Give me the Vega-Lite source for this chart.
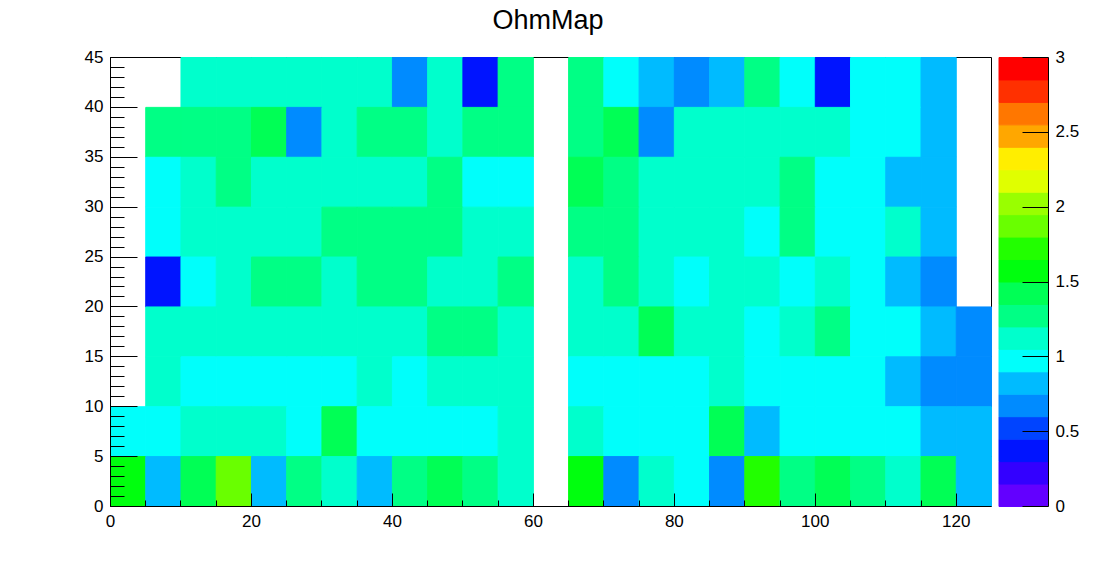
{
  "$schema": "https://vega.github.io/schema/vega-lite/v6.json",
  "autosize": {"type": "pad"},
  "padding": {"left": 83, "top": 6, "right": 0, "bottom": 0},
  "background": "white",
  "title": {"text": "OhmMap", "font": "Liberation Sans", "fontSize": 27, "fontWeight": "normal", "color": "black", "anchor": "middle", "dx": -33, "offset": 13},
  "config": {
    "axis": {"labelFont": "Liberation Sans", "labelFontSize": 17, "labelColor": "black", "domainColor": "black", "tickColor": "black", "grid": false, "title": null, "labelFlush": false, "labelOverlap": false},
    "view": {"stroke": "black"}
  },
  "spacing": 5,
  "datasets": {
    "cells": [
      {"x":10,"y":40,"v":1.12},{"x":15,"y":40,"v":1.12},{"x":20,"y":40,"v":1.12},{"x":25,"y":40,"v":1.12},{"x":30,"y":40,"v":1.12},{"x":35,"y":40,"v":1.12},{"x":40,"y":40,"v":0.67},{"x":45,"y":40,"v":1.12},{"x":50,"y":40,"v":0.37},{"x":55,"y":40,"v":1.27},{"x":65,"y":40,"v":1.27},{"x":70,"y":40,"v":0.97},{"x":75,"y":40,"v":0.82},{"x":80,"y":40,"v":0.67},{"x":85,"y":40,"v":0.82},{"x":90,"y":40,"v":1.27},{"x":95,"y":40,"v":0.97},{"x":100,"y":40,"v":0.37},{"x":105,"y":40,"v":0.97},{"x":110,"y":40,"v":0.97},{"x":115,"y":40,"v":0.82},
      {"x":5,"y":35,"v":1.27},{"x":10,"y":35,"v":1.27},{"x":15,"y":35,"v":1.27},{"x":20,"y":35,"v":1.42},{"x":25,"y":35,"v":0.67},{"x":30,"y":35,"v":1.12},{"x":35,"y":35,"v":1.27},{"x":40,"y":35,"v":1.27},{"x":45,"y":35,"v":1.12},{"x":50,"y":35,"v":1.27},{"x":55,"y":35,"v":1.27},{"x":65,"y":35,"v":1.27},{"x":70,"y":35,"v":1.42},{"x":75,"y":35,"v":0.67},{"x":80,"y":35,"v":1.12},{"x":85,"y":35,"v":1.12},{"x":90,"y":35,"v":1.12},{"x":95,"y":35,"v":1.12},{"x":100,"y":35,"v":1.12},{"x":105,"y":35,"v":0.97},{"x":110,"y":35,"v":0.97},{"x":115,"y":35,"v":0.82},
      {"x":5,"y":30,"v":0.97},{"x":10,"y":30,"v":1.12},{"x":15,"y":30,"v":1.27},{"x":20,"y":30,"v":1.12},{"x":25,"y":30,"v":1.12},{"x":30,"y":30,"v":1.12},{"x":35,"y":30,"v":1.12},{"x":40,"y":30,"v":1.12},{"x":45,"y":30,"v":1.27},{"x":50,"y":30,"v":0.97},{"x":55,"y":30,"v":0.97},{"x":65,"y":30,"v":1.42},{"x":70,"y":30,"v":1.27},{"x":75,"y":30,"v":1.12},{"x":80,"y":30,"v":1.12},{"x":85,"y":30,"v":1.12},{"x":90,"y":30,"v":1.12},{"x":95,"y":30,"v":1.27},{"x":100,"y":30,"v":0.97},{"x":105,"y":30,"v":0.97},{"x":110,"y":30,"v":0.82},{"x":115,"y":30,"v":0.82},
      {"x":5,"y":25,"v":0.97},{"x":10,"y":25,"v":1.12},{"x":15,"y":25,"v":1.12},{"x":20,"y":25,"v":1.12},{"x":25,"y":25,"v":1.12},{"x":30,"y":25,"v":1.27},{"x":35,"y":25,"v":1.27},{"x":40,"y":25,"v":1.27},{"x":45,"y":25,"v":1.27},{"x":50,"y":25,"v":1.12},{"x":55,"y":25,"v":1.12},{"x":65,"y":25,"v":1.27},{"x":70,"y":25,"v":1.27},{"x":75,"y":25,"v":1.12},{"x":80,"y":25,"v":1.12},{"x":85,"y":25,"v":1.12},{"x":90,"y":25,"v":0.97},{"x":95,"y":25,"v":1.27},{"x":100,"y":25,"v":0.97},{"x":105,"y":25,"v":0.97},{"x":110,"y":25,"v":1.12},{"x":115,"y":25,"v":0.82},
      {"x":5,"y":20,"v":0.37},{"x":10,"y":20,"v":0.97},{"x":15,"y":20,"v":1.12},{"x":20,"y":20,"v":1.27},{"x":25,"y":20,"v":1.27},{"x":30,"y":20,"v":1.12},{"x":35,"y":20,"v":1.27},{"x":40,"y":20,"v":1.27},{"x":45,"y":20,"v":1.12},{"x":50,"y":20,"v":1.12},{"x":55,"y":20,"v":1.27},{"x":65,"y":20,"v":1.12},{"x":70,"y":20,"v":1.27},{"x":75,"y":20,"v":1.12},{"x":80,"y":20,"v":0.97},{"x":85,"y":20,"v":1.12},{"x":90,"y":20,"v":1.12},{"x":95,"y":20,"v":0.97},{"x":100,"y":20,"v":1.12},{"x":105,"y":20,"v":0.97},{"x":110,"y":20,"v":0.82},{"x":115,"y":20,"v":0.67},
      {"x":5,"y":15,"v":1.12},{"x":10,"y":15,"v":1.12},{"x":15,"y":15,"v":1.12},{"x":20,"y":15,"v":1.12},{"x":25,"y":15,"v":1.12},{"x":30,"y":15,"v":1.12},{"x":35,"y":15,"v":1.12},{"x":40,"y":15,"v":1.12},{"x":45,"y":15,"v":1.27},{"x":50,"y":15,"v":1.27},{"x":55,"y":15,"v":1.12},{"x":65,"y":15,"v":1.12},{"x":70,"y":15,"v":1.12},{"x":75,"y":15,"v":1.42},{"x":80,"y":15,"v":1.12},{"x":85,"y":15,"v":1.12},{"x":90,"y":15,"v":0.97},{"x":95,"y":15,"v":1.12},{"x":100,"y":15,"v":1.27},{"x":105,"y":15,"v":0.97},{"x":110,"y":15,"v":0.97},{"x":115,"y":15,"v":0.82},{"x":120,"y":15,"v":0.67},
      {"x":5,"y":10,"v":1.12},{"x":10,"y":10,"v":0.97},{"x":15,"y":10,"v":0.97},{"x":20,"y":10,"v":0.97},{"x":25,"y":10,"v":0.97},{"x":30,"y":10,"v":0.97},{"x":35,"y":10,"v":1.12},{"x":40,"y":10,"v":0.97},{"x":45,"y":10,"v":1.12},{"x":50,"y":10,"v":1.12},{"x":55,"y":10,"v":1.12},{"x":65,"y":10,"v":0.97},{"x":70,"y":10,"v":0.97},{"x":75,"y":10,"v":0.97},{"x":80,"y":10,"v":0.97},{"x":85,"y":10,"v":1.12},{"x":90,"y":10,"v":0.97},{"x":95,"y":10,"v":0.97},{"x":100,"y":10,"v":0.97},{"x":105,"y":10,"v":0.97},{"x":110,"y":10,"v":0.82},{"x":115,"y":10,"v":0.67},{"x":120,"y":10,"v":0.67},
      {"x":0,"y":5,"v":0.97},{"x":5,"y":5,"v":0.97},{"x":10,"y":5,"v":1.12},{"x":15,"y":5,"v":1.12},{"x":20,"y":5,"v":1.12},{"x":25,"y":5,"v":0.97},{"x":30,"y":5,"v":1.42},{"x":35,"y":5,"v":0.97},{"x":40,"y":5,"v":0.97},{"x":45,"y":5,"v":0.97},{"x":50,"y":5,"v":0.97},{"x":55,"y":5,"v":1.12},{"x":65,"y":5,"v":1.12},{"x":70,"y":5,"v":0.97},{"x":75,"y":5,"v":0.97},{"x":80,"y":5,"v":0.97},{"x":85,"y":5,"v":1.42},{"x":90,"y":5,"v":0.82},{"x":95,"y":5,"v":0.97},{"x":100,"y":5,"v":0.97},{"x":105,"y":5,"v":0.97},{"x":110,"y":5,"v":0.97},{"x":115,"y":5,"v":0.82},{"x":120,"y":5,"v":0.82},
      {"x":0,"y":0,"v":1.57},{"x":5,"y":0,"v":0.82},{"x":10,"y":0,"v":1.42},{"x":15,"y":0,"v":1.87},{"x":20,"y":0,"v":0.82},{"x":25,"y":0,"v":1.27},{"x":30,"y":0,"v":1.12},{"x":35,"y":0,"v":0.82},{"x":40,"y":0,"v":1.27},{"x":45,"y":0,"v":1.42},{"x":50,"y":0,"v":1.27},{"x":55,"y":0,"v":1.12},{"x":65,"y":0,"v":1.57},{"x":70,"y":0,"v":0.67},{"x":75,"y":0,"v":1.12},{"x":80,"y":0,"v":0.97},{"x":85,"y":0,"v":0.67},{"x":90,"y":0,"v":1.72},{"x":95,"y":0,"v":1.27},{"x":100,"y":0,"v":1.42},{"x":105,"y":0,"v":1.27},{"x":110,"y":0,"v":1.12},{"x":115,"y":0,"v":1.42},{"x":120,"y":0,"v":0.82}
    ],
    "palette": [
      {"v":0.075},{"v":0.225},{"v":0.375},{"v":0.525},{"v":0.675},{"v":0.825},{"v":0.975},{"v":1.125},{"v":1.275},{"v":1.425},{"v":1.575},{"v":1.725},{"v":1.875},{"v":2.025},{"v":2.175},{"v":2.325},{"v":2.475},{"v":2.625},{"v":2.775},{"v":2.925}
    ]
  },
  "resolve": {"scale": {"color": "independent", "stroke": "independent"}},
  "hconcat": [
    {
      "width": 881,
      "height": 449,
      "data": {"name": "cells"},
      "mark": {"type": "rect", "strokeWidth": 1},
      "encoding": {
        "x": {"field": "x", "type": "quantitative", "bin": {"extent": [0, 125], "step": 5, "nice": false},
              "scale": {"domain": [0, 125], "nice": false, "zero": false},
              "axis": {"values": [0,5,10,15,20,25,30,35,40,45,50,55,60,65,70,75,80,85,90,95,100,105,110,115,120],
                       "labelExpr": "datum.value % 20 === 0 ? datum.label : ''",
                       "format": "d",
                       "tickSize": {"condition": {"test": "datum.value % 20 === 0", "value": -13}, "value": -6},
                       "labelPadding": 20}},
        "y": {"field": "y", "type": "quantitative", "bin": {"extent": [0, 45], "step": 5, "nice": false},
              "scale": {"domain": [0, 45], "nice": false, "zero": false},
              "axis": {"values": [0,1,2,3,4,5,6,7,8,9,10,11,12,13,14,15,16,17,18,19,20,21,22,23,24,25,26,27,28,29,30,31,32,33,34,35,36,37,38,39,40,41,42,43,44,45],
                       "labelExpr": "datum.value % 5 === 0 ? datum.label : ''",
                       "format": "d",
                       "tickSize": {"condition": {"test": "datum.value % 5 === 0", "value": -27}, "value": -14},
                       "labelPadding": 34}},
        "color": {"field": "v", "type": "quantitative",
                  "scale": {"type": "threshold",
                            "domain": [0.15,0.3,0.45,0.6,0.75,0.9,1.05,1.2,1.35,1.5,1.65,1.8,1.95,2.1,2.25,2.4,2.55,2.7,2.85],
                            "range": ["#6300ff","#3300ff","#0014ff","#0044ff","#008bff","#00bbff","#00fffb","#00ffcc","#00ff85","#00ff55","#00ff0e","#22ff00","#69ff00","#99ff00","#e0ff00","#ffee00","#ffa700","#ff7700","#ff3000","#ff0000"]},
                  "legend": null},
        "stroke": {"field": "v", "type": "quantitative",
                  "scale": {"type": "threshold",
                            "domain": [0.15,0.3,0.45,0.6,0.75,0.9,1.05,1.2,1.35,1.5,1.65,1.8,1.95,2.1,2.25,2.4,2.55,2.7,2.85],
                            "range": ["#6300ff","#3300ff","#0014ff","#0044ff","#008bff","#00bbff","#00fffb","#00ffcc","#00ff85","#00ff55","#00ff0e","#22ff00","#69ff00","#99ff00","#e0ff00","#ffee00","#ffa700","#ff7700","#ff3000","#ff0000"]},
                  "legend": null}
      }
    },
    {
      "width": 49,
      "height": 449,
      "view": {"stroke": null},
      "data": {"name": "palette"},
      "mark": {"type": "rect", "strokeWidth": 1},
      "encoding": {
        "y": {"field": "v", "type": "quantitative", "bin": {"extent": [0, 3], "step": 0.15, "nice": false},
              "scale": {"domain": [0, 3], "nice": false, "zero": false},
              "axis": {"orient": "right", "values": [0, 0.5, 1, 1.5, 2, 2.5, 3], "format": "~g", "tickSize": -26, "labelPadding": 33}},
        "color": {"field": "v", "type": "quantitative",
                  "scale": {"type": "threshold",
                            "domain": [0.15,0.3,0.45,0.6,0.75,0.9,1.05,1.2,1.35,1.5,1.65,1.8,1.95,2.1,2.25,2.4,2.55,2.7,2.85],
                            "range": ["#6300ff","#3300ff","#0014ff","#0044ff","#008bff","#00bbff","#00fffb","#00ffcc","#00ff85","#00ff55","#00ff0e","#22ff00","#69ff00","#99ff00","#e0ff00","#ffee00","#ffa700","#ff7700","#ff3000","#ff0000"]},
                  "legend": null},
        "stroke": {"field": "v", "type": "quantitative",
                  "scale": {"type": "threshold",
                            "domain": [0.15,0.3,0.45,0.6,0.75,0.9,1.05,1.2,1.35,1.5,1.65,1.8,1.95,2.1,2.25,2.4,2.55,2.7,2.85],
                            "range": ["#6300ff","#3300ff","#0014ff","#0044ff","#008bff","#00bbff","#00fffb","#00ffcc","#00ff85","#00ff55","#00ff0e","#22ff00","#69ff00","#99ff00","#e0ff00","#ffee00","#ffa700","#ff7700","#ff3000","#ff0000"]},
                  "legend": null}
      }
    }
  ]
}
